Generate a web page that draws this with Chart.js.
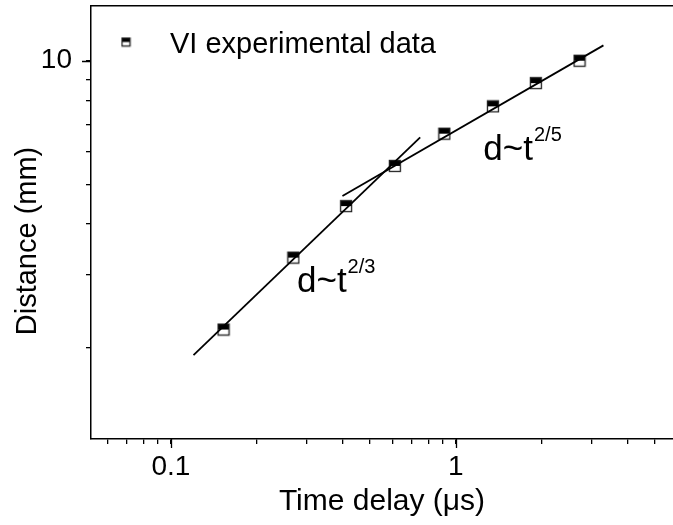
<!DOCTYPE html>
<html>
<head>
<meta charset="utf-8">
<script src="https://cdn.jsdelivr.net/npm/chart.js@4.4.0/dist/chart.umd.min.js"></script>
<style>
  html, body { margin: 0; padding: 0; background: #fff; overflow: hidden; }
</style>
</head>
<body>
<canvas id="chart" width="673" height="525"></canvas>
<script>
// time delay (µs) and distance (mm)
const timeDelay = [0.153, 0.269, 0.412, 0.611, 0.912, 1.35, 1.91, 2.72];
const distance = [2.21, 3.31, 4.42, 5.54, 6.64, 7.74, 8.82, 10.0];

// end points of the two fit lines
const fitEarlyX = [0.12, 0.75];
const fitEarlyY = [1.915, 6.5];
const fitLateX = [0.40, 3.30];
const fitLateY = [4.68, 10.9];

// tick values
const xMajorTicks = [0.1, 1];
const xMinorTicks = [0.06, 0.07, 0.08, 0.09, 0.2, 0.3, 0.4, 0.5, 0.6, 0.7, 0.8, 0.9, 2, 3, 4, 5];
const yMajorTicks = [10];
const yMinorTicks = [2, 3, 4, 5, 6, 7, 8, 9];

const FONT = "'Liberation Sans', Arial, sans-serif";

// half filled square marker
function makeMarker(size) {
  const c = document.createElement('canvas');
  c.width = size + 2;
  c.height = size + 2;
  const g = c.getContext('2d');
  g.fillStyle = '#fff';
  g.fillRect(1, 1, size, size);
  g.fillStyle = '#000';
  g.fillRect(1, 1, size, size / 2);
  g.strokeStyle = '#222';
  g.lineWidth = 1.3;
  g.strokeRect(1.5, 1.5, size - 1, size - 1);
  return c;
}
const marker = makeMarker(12);
const legendMarker = makeMarker(9);

const toPoints = (xs, ys) => xs.map((x, i) => ({ x: x, y: ys[i] }));

// no extra room around the axes, the plot box is fixed
const noPad = s => {
  s.paddingTop = 0;
  s.paddingBottom = 0;
  s.paddingLeft = 0;
  s.paddingRight = 0;
};

// longer tick marks for labelled values
const majorTicks = {
  id: 'majorTicks',
  afterDraw(chart) {
    const { ctx, scales: { x, y } } = chart;
    ctx.save();
    ctx.strokeStyle = '#000';
    ctx.lineWidth = 1.3;
    ctx.beginPath();
    xMajorTicks.forEach(v => {
      const px = Math.round(x.getPixelForValue(v)) + 0.5;
      ctx.moveTo(px, x.top);
      ctx.lineTo(px, x.top + 9);
    });
    yMajorTicks.forEach(v => {
      const py = Math.round(y.getPixelForValue(v)) + 0.5;
      ctx.moveTo(y.right - 9, py);
      ctx.lineTo(y.right, py);
    });
    ctx.stroke();
    ctx.restore();
  }
};

// power law notes, placed in data units
const notes = [
  { x: 0.277, y: 2.73, text: 'd~t', sup: '2/3' },
  { x: 1.25, y: 5.72, text: 'd~t', sup: '2/5' }
];
const notesPlugin = {
  id: 'notes',
  afterDraw(chart) {
    const { ctx, scales: { x, y } } = chart;
    ctx.save();
    ctx.fillStyle = '#000';
    ctx.textBaseline = 'alphabetic';
    notes.forEach(n => {
      const px = x.getPixelForValue(n.x);
      const py = y.getPixelForValue(n.y);
      ctx.font = '35px ' + FONT;
      ctx.fillText(n.text, px, py);
      const w = ctx.measureText(n.text).width;
      ctx.font = '20px ' + FONT;
      ctx.fillText(n.sup, px + w + 1, py - 19);
    });
    ctx.restore();
  }
};

// y title sits a bit below the middle of the axis in the original
const yTitle = {
  id: 'yTitle',
  afterDraw(chart) {
    const { ctx, chartArea } = chart;
    ctx.save();
    ctx.translate(28, chartArea.top + 235);
    ctx.rotate(-Math.PI / 2);
    ctx.fillStyle = '#000';
    ctx.font = '29px ' + FONT;
    ctx.textAlign = 'center';
    ctx.textBaseline = 'middle';
    ctx.fillText('Distance (mm)', 0, 0);
    ctx.restore();
  }
};

// legend inside the plot
const legendPlugin = {
  id: 'innerLegend',
  afterDraw(chart) {
    const { ctx, chartArea } = chart;
    const mx = chartArea.left + 35;
    const my = chartArea.top + 36;
    ctx.save();
    ctx.drawImage(legendMarker, mx - legendMarker.width / 2, my - legendMarker.height / 2);
    ctx.fillStyle = '#000';
    ctx.font = '29px ' + FONT;
    ctx.textBaseline = 'alphabetic';
    ctx.fillText(chart.data.datasets[2].label, mx + 44, my + 11);
    ctx.restore();
  }
};

const chart = new Chart(document.getElementById('chart'), {
  type: 'scatter',
  data: {
    datasets: [
      {
        label: 'fit 2/3',
        data: toPoints(fitEarlyX, fitEarlyY),
        showLine: true,
        borderColor: '#000',
        borderWidth: 1.8,
        pointRadius: 0
      },
      {
        label: 'fit 2/5',
        data: toPoints(fitLateX, fitLateY),
        showLine: true,
        borderColor: '#000',
        borderWidth: 1.8,
        pointRadius: 0
      },
      {
        label: 'VI experimental data',
        data: toPoints(timeDelay, distance),
        pointStyle: marker,
        showLine: false
      }
    ]
  },
  options: {
    responsive: false,
    animation: false,
    layout: { padding: 0, autoPadding: false },
    plugins: {
      legend: { display: false },
      tooltip: { enabled: false }
    },
    scales: {
      x: {
        type: 'logarithmic',
        position: 'bottom',
        min: 0.0524,
        max: 5.79,
        afterFit: s => { s.height = 86; noPad(s); },
        afterBuildTicks: s => {
          s.ticks = xMajorTicks.concat(xMinorTicks).sort((a, b) => a - b).map(v => ({ value: v }));
        },
        ticks: {
          autoSkip: false,
          maxRotation: 0,
          padding: 6,
          color: '#000',
          font: { family: FONT, size: 28 },
          callback: v => xMajorTicks.includes(v) ? String(v) : ''
        },
        grid: { display: true, drawOnChartArea: false, tickLength: 5, color: '#000', lineWidth: 1.3 },
        border: { display: true, color: '#000', width: 1.5 },
        title: {
          display: true,
          text: 'Time delay (μs)',
          color: '#000',
          font: { family: FONT, size: 30, lineHeight: 1 },
          padding: { top: 0, bottom: 8 }
        }
      },
      xTop: {
        type: 'linear',
        position: 'top',
        afterFit: s => { s.height = 6; noPad(s); },
        ticks: { display: false },
        grid: { display: false },
        border: { display: true, color: '#000', width: 1.5 }
      },
      y: {
        type: 'logarithmic',
        position: 'left',
        min: 1.195,
        max: 13.6,
        afterFit: s => { s.width = 91; noPad(s); },
        afterBuildTicks: s => {
          s.ticks = yMinorTicks.concat(yMajorTicks).sort((a, b) => a - b).map(v => ({ value: v }));
        },
        ticks: {
          autoSkip: false,
          padding: 14,
          color: '#000',
          font: { family: FONT, size: 28 },
          callback: v => yMajorTicks.includes(v) ? String(v) : ''
        },
        grid: { display: true, drawOnChartArea: false, tickLength: 5, color: '#000', lineWidth: 1.3 },
        border: { display: true, color: '#000', width: 1.5 },
        title: { display: false }
      }
    }
  },
  plugins: [majorTicks, notesPlugin, yTitle, legendPlugin]
});
</script>
</body>
</html>
